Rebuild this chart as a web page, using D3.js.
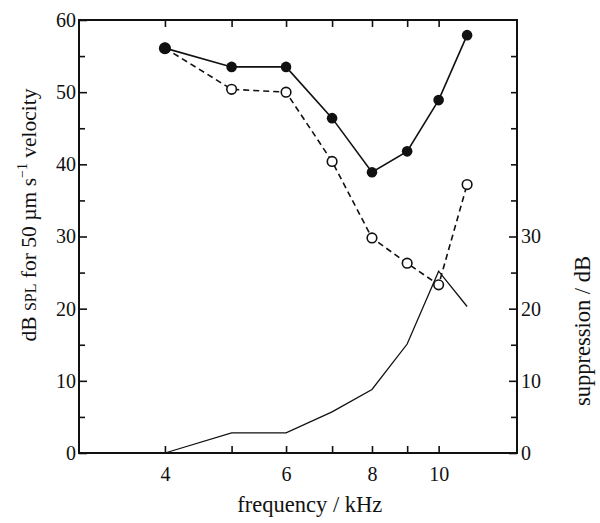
<!DOCTYPE html>
<html>
<head>
<meta charset="utf-8">
<script src="https://cdn.jsdelivr.net/npm/d3@7"></script>
<style>
  body { margin: 0; background: #fff; }
  svg text { font-family: "Liberation Serif", "DejaVu Serif", serif; }
  .axis text { font-size: 20px; fill: #111; }
  .axis line { stroke: #111; stroke-width: 1.6; }
  .axis path { display: none; }
</style>
</head>
<body>
<svg width="600" height="523"></svg>
<script>
// data
var freqs = [4, 5, 6, 7, 8, 9, 10, 11];
var filledDB = [56.1, 53.5, 53.5, 46.4, 38.9, 41.8, 48.9, 57.9];
var openDB = [56.1, 50.4, 50.0, 40.4, 29.8, 26.3, 23.3, 37.2];
var suppression = [0, 2.8, 2.8, 5.7, 8.8, 15.1, 25.2, 20.3];
var xTicks = [4, 5, 6, 7, 8, 9, 10];
var xLabels = [4, 6, 8, 10];

var svg = d3.select("svg");

var x = d3.scaleLog().domain([3, 13]).range([79, 517]);
var y = d3.scaleLinear().domain([0, 60]).range([453, 20]);
var ySup = d3.scaleLinear().domain([0, 60]).range([453, 20]);

// frame
svg.append("rect")
    .attr("x", x.range()[0]).attr("y", y.range()[1])
    .attr("width", x.range()[1] - x.range()[0])
    .attr("height", y.range()[0] - y.range()[1])
    .attr("fill", "none").attr("stroke", "#111").attr("stroke-width", 2);

// bottom axis
svg.append("g").attr("class", "axis")
    .attr("transform", "translate(0," + y(0) + ")")
    .call(d3.axisBottom(x).tickValues(xTicks).tickSize(-7).tickSizeOuter(0).tickPadding(14)
        .tickFormat(function(d) { return xLabels.includes(d) ? d : ""; }));

// top axis
svg.append("g").attr("class", "axis")
    .attr("transform", "translate(0," + y(60) + ")")
    .call(d3.axisTop(x).tickValues(xTicks).tickSize(-7).tickSizeOuter(0).tickFormat(""));

// left axis
svg.append("g").attr("class", "axis")
    .attr("transform", "translate(" + x(3) + ",0)")
    .call(d3.axisLeft(y).tickValues(d3.range(0, 61, 10)).tickSize(-8).tickSizeOuter(0).tickPadding(3));
svg.append("g").attr("class", "axis")
    .attr("transform", "translate(" + x(3) + ",0)")
    .call(d3.axisLeft(y).tickValues(d3.range(5, 60, 10)).tickSize(-6).tickSizeOuter(0).tickFormat(""));

// right axis
svg.append("g").attr("class", "axis")
    .attr("transform", "translate(" + x(13) + ",0)")
    .call(d3.axisRight(ySup).tickValues(d3.range(0, 31, 10)).tickSize(-8).tickSizeOuter(0).tickPadding(4));
svg.append("g").attr("class", "axis")
    .attr("transform", "translate(" + x(13) + ",0)")
    .call(d3.axisRight(ySup).tickValues([5, 15, 25, 35, 40, 45, 50, 55]).tickSize(-6).tickSizeOuter(0).tickFormat(""));

// lines
var lineFilled = d3.line().x(function(d, i) { return x(freqs[i]); }).y(function(d) { return y(d); });
var lineSup = d3.line().x(function(d, i) { return x(freqs[i]); }).y(function(d) { return ySup(d); });

svg.append("path").datum(suppression)
    .attr("d", lineSup).attr("fill", "none").attr("stroke", "#111").attr("stroke-width", 1.3);

svg.append("path").datum(openDB)
    .attr("d", lineFilled).attr("fill", "none").attr("stroke", "#111")
    .attr("stroke-width", 1.6).attr("stroke-dasharray", "6,4");

svg.append("path").datum(filledDB)
    .attr("d", lineFilled).attr("fill", "none").attr("stroke", "#111").attr("stroke-width", 1.6);

svg.append("g").selectAll("circle").data(openDB).enter().append("circle")
    .attr("cx", function(d, i) { return x(freqs[i]); })
    .attr("cy", function(d) { return y(d); })
    .attr("r", 4.8).attr("fill", "#fff").attr("stroke", "#111").attr("stroke-width", 1.6);

svg.append("g").selectAll("circle").data(filledDB).enter().append("circle")
    .attr("cx", function(d, i) { return x(freqs[i]); })
    .attr("cy", function(d) { return y(d); })
    .attr("r", function(d, i) { return i === 0 ? 6 : 5.3; }).attr("fill", "#111");

// axis titles
svg.append("text")
    .attr("x", (x(4) + x(10)) / 2 + 8).attr("y", 512)
    .attr("text-anchor", "middle").attr("font-size", 22.5).attr("fill", "#111")
    .text("frequency / kHz");

var lt = svg.append("text")
    .attr("transform", "translate(36,215) rotate(-90)")
    .attr("text-anchor", "middle").attr("font-size", 21.5).attr("fill", "#111");
lt.append("tspan").text("dB ");
lt.append("tspan").attr("font-size", 16).text("SPL");
lt.append("tspan").text(" for 50 \u00b5m s");
lt.append("tspan").attr("font-size", 14).attr("dy", -9).text("\u22121");
lt.append("tspan").attr("dy", 9).text(" velocity");

svg.append("text")
    .attr("transform", "translate(590,331) rotate(-90)")
    .attr("text-anchor", "middle").attr("font-size", 22.5).attr("fill", "#111")
    .text("suppression / dB");
</script>
</body>
</html>
